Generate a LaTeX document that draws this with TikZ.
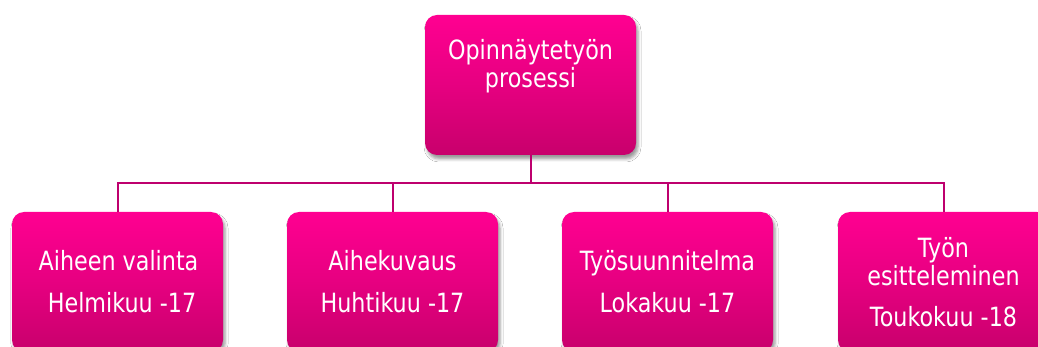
\documentclass[tikz,border=0pt]{standalone}
\usepackage{fontspec}
\setmainfont{DejaVu Sans}[FakeStretch=0.84]
\usetikzlibrary{shadows.blur}
\definecolor{pinktop}{RGB}{255,0,145}
\definecolor{pinkbot}{RGB}{200,0,108}
\definecolor{linkline}{RGB}{190,0,110}
\tikzset{
  orgbox/.style={rectangle, rounded corners=12pt, minimum width=211pt,
    minimum height=140pt, inner sep=0pt, top color=pinktop, bottom color=pinkbot,
    middle color=pinktop!55!pinkbot,
    blur shadow={shadow xshift=2pt, shadow yshift=-4pt, shadow blur radius=3pt,
      shadow opacity=40}},
  boxtext/.style={text=white, align=center, inner sep=0pt, anchor=base,
    font=\fontsize{26.5pt}{28pt}\selectfont},
  conn/.style={draw=linkline, line width=2pt}
}
\begin{document}
\begin{tikzpicture}[x=1pt, y=-1pt]
  \useasboundingbox (0,0) rectangle (1038,347);
  \clip (0,0) rectangle (1038,347);
  \fill[white] (0,0) rectangle (1038,347);

  % connector bus
  \coordinate (bus) at (530.5,183.5);

  % boxes
  \node[orgbox] (top) at (530.5,85) {};
  \node[orgbox] (b1) at (117.5,282) {};
  \node[orgbox] (b2) at (392.5,282) {};
  \node[orgbox] (b3) at (667.5,282) {};
  \node[orgbox] (b4) at (943.5,282) {};

  % connectors
  \draw[conn] (top.south) -- (bus);
  \draw[conn] (b1.north) |- (bus) -| (b4.north);
  \draw[conn] (b2.north) -- (b2.north |- bus);
  \draw[conn] (b3.north) -- (b3.north |- bus);

  % labels (anchored at the baseline of the last line)
  \node[boxtext] (ttop) at (530.5,88) {Opinnäytetyön\\prosessi};
  \node[boxtext] (t1) at (118.5,312) {Aiheen valinta\\[13pt]\ Helmikuu -17};
  \node[boxtext] (t2) at (392.5,312) {Aihekuvaus\\[13pt]Huhtikuu -17};
  \node[boxtext] (t3) at (667.5,312) {Työsuunnitelma\\[13pt]Lokakuu -17};
  \node[boxtext] (t4) at (943.5,326) {Työn\\esitteleminen\\[13pt]Toukokuu -18};
\end{tikzpicture}
\end{document}
